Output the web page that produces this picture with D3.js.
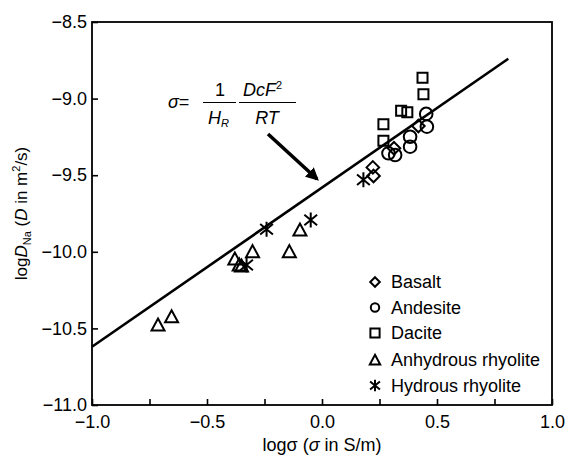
<!DOCTYPE html>
<html lang="en">
<head>
    <meta charset="UTF-8">
    <title>logD vs log sigma</title>
    <style>
        body {
            margin: 0;
            padding: 0;
            background-color: #fff;
            font-family: "Liberation Sans", Arial, sans-serif;
        }
        svg text {
            font-family: "Liberation Sans", Arial, sans-serif;
            fill: #000;
        }
    </style>
</head>
<body>

<svg width="568" height="457" id="chart"></svg>

<script src="https://d3js.org/d3.v7.min.js"></script>
<script>
    // data: [log sigma, log D]
    const basalt = [[0.313, -9.324], [0.419, -9.179], [0.221, -9.449], [0.224, -9.505]];
    const andesite = [[0.453, -9.10], [0.456, -9.183], [0.383, -9.249], [0.383, -9.314], [0.289, -9.357], [0.318, -9.368]];
    const dacite = [[0.437, -8.864], [0.441, -8.972], [0.344, -9.079], [0.371, -9.089], [0.267, -9.168], [0.267, -9.275]];
    const anhydrous = [[-0.713, -10.478], [-0.654, -10.424], [-0.379, -10.047], [-0.36, -10.086], [-0.35, -10.093],
        [-0.302, -9.999], [-0.142, -9.999], [-0.096, -9.858]];
    const hydrous = [[0.18, -9.53], [-0.241, -9.853], [-0.328, -10.086], [-0.049, -9.792]];
    const fitLine = [[-1.0, -10.62], [0.81, -8.74]];

    const legendNames = ["Basalt", "Andesite", "Dacite", "Anhydrous rhyolite", "Hydrous rhyolite"];
    const xTicks = [-1.0, -0.75, -0.5, -0.25, 0.0, 0.25, 0.5, 0.75, 1.0];
    const xTickLabels = [-1.0, -0.5, 0.0, 0.5, 1.0];
    const yTicks = [-8.5, -9.0, -9.5, -10.0, -10.5, -11.0];

    const svg = d3.select("#chart");
    const margin = { top: 22, right: 16, bottom: 52, left: 92 };
    const width = 568 - margin.left - margin.right;
    const height = 457 - margin.top - margin.bottom;

    const x = d3.scaleLinear().domain([-1, 1]).range([0, width]);
    const y = d3.scaleLinear().domain([-11, -8.5]).range([height, 0]);

    const g = svg.append("g")
        .attr("transform", `translate(${margin.left},${margin.top})`);

    const fmt = v => d3.format(".1f")(v).replace("-", "\u2212");

    // frame
    g.append("rect")
        .attr("width", width).attr("height", height)
        .attr("fill", "none").attr("stroke", "#000").attr("stroke-width", 1.8);

    // x axis (ticks pointing inward)
    const xAxis = g.append("g")
        .attr("transform", `translate(0,${height})`)
        .call(d3.axisBottom(x).tickValues(xTicks).tickSizeInner(-6).tickSizeOuter(0)
            .tickFormat(d => xTickLabels.includes(d) ? fmt(d) : ""));
    xAxis.select(".domain").remove();
    xAxis.selectAll(".tick line").attr("stroke-width", 1.6);
    xAxis.selectAll(".tick text").attr("font-size", 18).attr("dy", "0.71em").attr("y", 10);

    // y axis
    const yAxis = g.append("g")
        .call(d3.axisLeft(y).tickValues(yTicks).tickSizeInner(-6).tickSizeOuter(0).tickFormat(fmt));
    yAxis.select(".domain").remove();
    yAxis.selectAll(".tick line").attr("stroke-width", 1.6);
    yAxis.selectAll(".tick text").attr("font-size", 18).attr("x", -5);

    // axis titles
    const xt = svg.append("text")
        .attr("x", margin.left + width / 2).attr("y", 451)
        .attr("text-anchor", "middle").attr("font-size", 18);
    xt.append("tspan").text("log\u03c3 (");
    xt.append("tspan").attr("font-style", "italic").text("\u03c3");
    xt.append("tspan").text(" in S/m)");

    const yt = svg.append("text")
        .attr("transform", `translate(27,${margin.top + height / 2}) rotate(-90)`)
        .attr("text-anchor", "middle").attr("font-size", 17);
    yt.append("tspan").text("log");
    yt.append("tspan").attr("font-style", "italic").text("D");
    yt.append("tspan").attr("font-size", 11).attr("dy", 4).text("Na");
    yt.append("tspan").attr("dy", -4).text(" (");
    yt.append("tspan").attr("font-style", "italic").text("D");
    yt.append("tspan").text(" in m");
    yt.append("tspan").attr("font-size", 11).attr("dy", -7).text("2");
    yt.append("tspan").attr("dy", 7).text("/s)");

    // fitted line
    const line = d3.line().x(d => x(d[0])).y(d => y(d[1]));
    g.append("path")
        .datum(fitLine)
        .attr("d", line)
        .attr("fill", "none").attr("stroke", "#000").attr("stroke-width", 2.6);

    // marker shapes
    function shapePath(kind, s) {
        const p = d3.path();
        if (kind === "diamond") {
            p.moveTo(0, -s); p.lineTo(s, 0); p.lineTo(0, s); p.lineTo(-s, 0); p.closePath();
        } else if (kind === "circle") {
            p.arc(0, 0, s, 0, 2 * Math.PI);
        } else if (kind === "square") {
            p.rect(-s, -s, 2 * s, 2 * s);
        } else if (kind === "triangle") {
            p.moveTo(0, -s); p.lineTo(s * 1.0, s * 0.85); p.lineTo(-s * 1.0, s * 0.85); p.closePath();
        } else {
            p.moveTo(0, -s); p.lineTo(0, s);
            p.moveTo(-s * 0.85, -s * 0.7); p.lineTo(s * 0.85, s * 0.7);
            p.moveTo(s * 0.85, -s * 0.7); p.lineTo(-s * 0.85, s * 0.7);
        }
        return p.toString();
    }

    const groups = [
        { data: dacite, kind: "square", size: 5 },
        { data: andesite, kind: "circle", size: 6.3 },
        { data: basalt, kind: "diamond", size: 6.3 },
        { data: anhydrous, kind: "triangle", size: 6.5 },
        { data: hydrous, kind: "asterisk", size: 7.5 }
    ];

    groups.forEach(grp => {
        g.append("g").selectAll("path")
            .data(grp.data)
            .enter().append("path")
            .attr("transform", d => `translate(${x(d[0])},${y(d[1])})`)
            .attr("d", shapePath(grp.kind, grp.size))
            .attr("fill", "none")
            .attr("stroke", "#000").attr("stroke-width", 2);
    });

    // legend
    const legendKinds = ["diamond", "circle", "square", "triangle", "asterisk"];
    const legendSizes = [4.8, 4.2, 4.6, 5.2, 5.8];
    const legend = svg.append("g").attr("transform", "translate(375,282)");
    legendNames.forEach((name, i) => {
        const row = legend.append("g").attr("transform", `translate(0,${i * 25.5 + (i > 2 ? 1.5 : 0)})`);
        row.append("path")
            .attr("d", shapePath(legendKinds[i], legendSizes[i]))
            .attr("fill", "none").attr("stroke", "#000").attr("stroke-width", 2);
        row.append("text")
            .attr("x", 16).attr("dy", "0.35em")
            .attr("font-size", 18).text(name);
    });

    // equation
    const eq = svg.append("g");
    const sig = eq.append("text").attr("x", 168).attr("y", 108).attr("font-size", 18);
    sig.append("tspan").attr("font-style", "italic").text("\u03c3");
    sig.append("tspan").text("=");
    eq.append("line").attr("x1", 203).attr("x2", 236).attr("y1", 102.5).attr("y2", 102.5)
        .attr("stroke", "#000").attr("stroke-width", 1.2);
    eq.append("line").attr("x1", 239).attr("x2", 296).attr("y1", 102.5).attr("y2", 102.5)
        .attr("stroke", "#000").attr("stroke-width", 1.2);
    eq.append("text").attr("x", 220).attr("y", 96).attr("text-anchor", "middle")
        .attr("font-size", 18).text("1");
    const hr = eq.append("text").attr("x", 208).attr("y", 124).attr("font-size", 18).attr("font-style", "italic");
    hr.append("tspan").text("H");
    hr.append("tspan").attr("font-size", 11).attr("dy", 3).text("R");
    const num = eq.append("text").attr("x", 243).attr("y", 96).attr("font-size", 18).attr("font-style", "italic");
    num.append("tspan").text("DcF");
    num.append("tspan").attr("font-size", 11).attr("dy", -7).attr("font-style", "normal").text("2");
    eq.append("text").attr("x", 267).attr("y", 124).attr("text-anchor", "middle")
        .attr("font-size", 18).attr("font-style", "italic").text("RT");

    // arrow
    svg.append("defs").append("marker")
        .attr("id", "head").attr("viewBox", "0 0 10 10")
        .attr("refX", 8).attr("refY", 5)
        .attr("markerWidth", 3.6).attr("markerHeight", 3.6)
        .attr("orient", "auto")
        .append("path").attr("d", "M0,0 L10,5 L0,10 Z").attr("fill", "#000");
    svg.append("line")
        .attr("x1", 268).attr("y1", 134).attr("x2", 317).attr("y2", 179)
        .attr("stroke", "#000").attr("stroke-width", 3.6)
        .attr("marker-end", "url(#head)");
</script>

</body>
</html>
